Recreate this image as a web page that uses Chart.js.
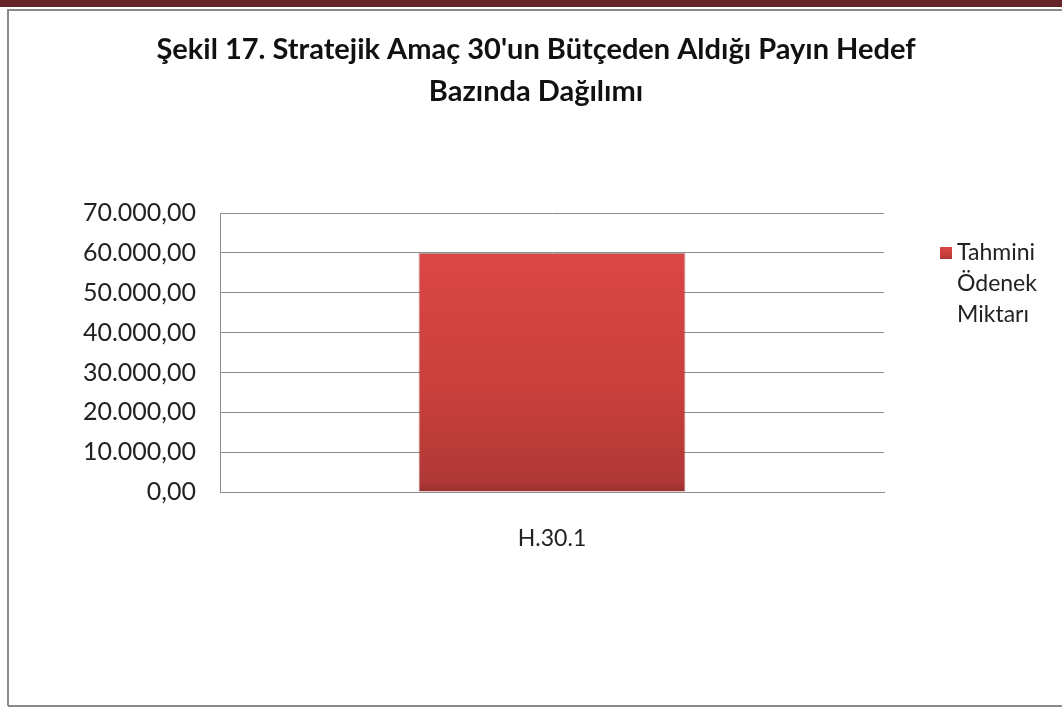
<!DOCTYPE html>
<html>
<head>
<meta charset="utf-8">
<script src="https://cdn.jsdelivr.net/npm/chart.js@4.4.0/dist/chart.umd.min.js"></script>
<style>
  html, body { margin: 0; padding: 0; background: #fff; }
  #wrap { width: 1062px; height: 707px; position: relative; }
</style>
</head>
<body>
<div id="wrap"><canvas id="chart" width="1062" height="707"></canvas></div>
<script>
// chart data
const categories = ["H.30.1"];
const seriesName = "Tahmini Ödenek Miktarı";
const seriesValues = [60000];
const titleLines = ["Şekil 17. Stratejik Amaç 30'un Bütçeden Aldığı Payın Hedef", "Bazında Dağılımı"];
const yMin = 0, yMax = 70000, yStep = 10000;

const fontFamily = "Lato, 'Noto Sans', sans-serif";

function formatTr(v) {
  return v.toLocaleString("de-DE", { minimumFractionDigits: 2, maximumFractionDigits: 2 });
}

function barGradient(ctx, top, bottom) {
  const g = ctx.createLinearGradient(0, top, 0, bottom);
  g.addColorStop(0, "#db4744");
  g.addColorStop(0.6, "#c83f3c");
  g.addColorStop(0.95, "#b03936");
  g.addColorStop(1, "#9a302d");
  return g;
}

// frame + top band
const framePlugin = {
  id: "frame",
  beforeDraw(chart) {
    const ctx = chart.ctx;
    ctx.save();
    ctx.fillStyle = "#fff";
    ctx.fillRect(0, 0, chart.width, chart.height);
    ctx.fillStyle = "#66242a";
    ctx.fillRect(0, 0, chart.width, 7);
    ctx.strokeStyle = "#8a8a8a";
    ctx.lineWidth = 2;
    ctx.beginPath();
    ctx.moveTo(8, 706);
    ctx.lineTo(8, 10);
    ctx.lineTo(chart.width + 2, 10);
    ctx.moveTo(8, 706);
    ctx.lineTo(chart.width + 2, 706);
    ctx.stroke();
    ctx.restore();
  }
};

// legend on the right, wrapped word by word
const legendPlugin = {
  id: "sideLegend",
  afterDraw(chart) {
    const ctx = chart.ctx;
    const words = chart.data.datasets[0].label.split(" ");
    const x = 940, y = 253;
    ctx.save();
    ctx.fillStyle = barGradient(ctx, y - 6, y + 6);
    ctx.fillRect(x, y - 6, 12, 12);
    ctx.fillStyle = "#222";
    ctx.font = "23px " + fontFamily;
    ctx.textBaseline = "middle";
    words.forEach((w, i) => ctx.fillText(w, x + 17, y + i * 31));
    ctx.restore();
  }
};

const ctx = document.getElementById("chart").getContext("2d");
new Chart(ctx, {
  type: "bar",
  data: {
    labels: categories,
    datasets: [{
      label: seriesName,
      data: seriesValues,
      backgroundColor: (c) => {
        const area = c.chart.chartArea;
        if (!area) return "#d24340";
        const y = c.chart.scales.y;
        return barGradient(c.chart.ctx, y.getPixelForValue(seriesValues[0]), area.bottom);
      },
      borderColor: "rgba(110,30,30,0.45)",
      borderWidth: 1,
      barPercentage: 0.402,
      categoryPercentage: 1
    }]
  },
  options: {
    responsive: false,
    animation: false,
    layout: { padding: { left: 10, right: 0, top: 10, bottom: 10 } },
    plugins: {
      legend: { display: false },
      tooltip: { enabled: false },
      title: {
        display: true,
        text: titleLines,
        color: "#111",
        font: { family: fontFamily, size: 29, weight: "bold", lineHeight: 1.45 },
        padding: { top: 19, bottom: 100 }
      }
    },
    scales: {
      x: {
        grid: { display: false, drawTicks: false },
        border: { display: true, color: "#8c8c8c", width: 1 },
        ticks: { color: "#222", font: { family: fontFamily, size: 23 }, padding: 33 },
        afterFit(scale) { scale.height = 205; }
      },
      y: {
        min: yMin,
        max: yMax,
        grid: { color: "#8c8c8c", drawTicks: false },
        border: { display: true, color: "#8c8c8c", width: 1 },
        ticks: {
          stepSize: yStep,
          color: "#222",
          font: { family: fontFamily, size: 25 },
          padding: 24,
          callback: (v) => formatTr(v)
        },
        afterFit(scale) { scale.width = 210; }
      },
      // empty right-side space reserved for the legend
      yRight: {
        position: "right",
        min: yMin,
        max: yMax,
        grid: { display: false, drawTicks: false },
        border: { display: false },
        ticks: { display: false },
        afterFit(scale) { scale.width = 178; }
      }
    }
  },
  plugins: [framePlugin, legendPlugin]
});
</script>
</body>
</html>
